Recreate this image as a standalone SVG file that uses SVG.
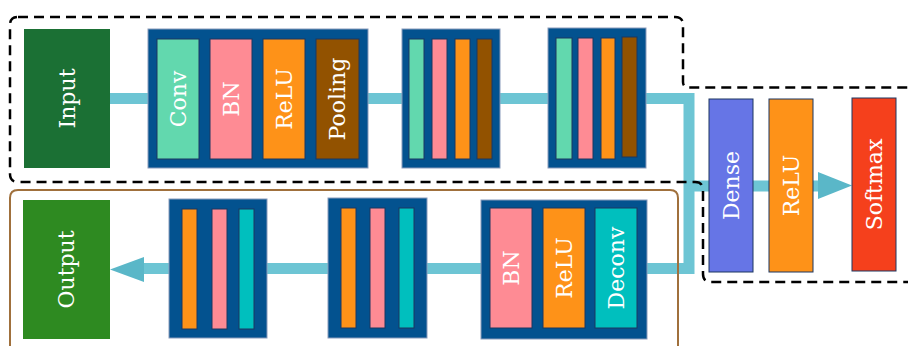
<svg xmlns="http://www.w3.org/2000/svg" width="908" height="346" viewBox="0 0 908 346">
<style>
.lbl{font-family:"DejaVu Serif","Liberation Serif",serif;font-size:22px;fill:#ffffff;text-anchor:middle}
.blk{fill:#03528f;stroke:#8a9bbb;stroke-width:1}
.bar{stroke:#1d3760;stroke-width:1}
.big{stroke:#1d3760;stroke-width:1}
.conv{fill:#62d8ae}.bn{fill:#fe8b94}.relu{fill:#fe9218}.pool{fill:#925200}.dec{fill:#00bfbe}
.edge{fill:none;stroke:#6dc5d4;stroke-width:11}
.head{fill:#5ab7c8}
</style>
<rect width="908" height="346" fill="#ffffff"/>
<g id="connectors">
<path class="edge" d="M110,98.5 H148"/>
<path class="edge" d="M368,98.5 H402"/>
<path class="edge" d="M500,98.5 H548"/>
<path class="edge" d="M646,98.5 H689 V268.5 H647" stroke-linejoin="miter"/>
<path class="edge" d="M689,186 H820"/>
<polygon class="head" points="818,172 852,185.5 818,199"/>
<path class="edge" d="M481,268.5 H427"/>
<path class="edge" d="M328,268.5 H267"/>
<path class="edge" d="M169,268.5 H142"/>
<polygon class="head" points="144,257 110,269.5 144,282"/>
</g>
<g id="input">
<rect x="24" y="29" width="86" height="139" fill="#1b7034"/>
<text class="lbl" x="67" y="98.5" dy="0.36em" transform="rotate(-90 67 98.5)">Input</text>
</g>
<g id="block1">
<rect class="blk" x="148" y="29" width="220" height="139"/>
<rect class="bar conv" x="157" y="39" width="42" height="120"/>
<rect class="bar bn" x="210" y="39" width="42" height="120"/>
<rect class="bar relu" x="263" y="39" width="42" height="120"/>
<rect class="bar pool" x="316" y="39" width="43" height="120"/>
<text class="lbl" x="178" y="99" dy="0.36em" transform="rotate(-90 178 99)">Conv</text>
<text class="lbl" x="231" y="99" dy="0.36em" transform="rotate(-90 231 99)">BN</text>
<text class="lbl" x="284" y="99" dy="0.36em" transform="rotate(-90 284 99)">ReLU</text>
<text class="lbl" x="337.5" y="99" dy="0.36em" transform="rotate(-90 337.5 99)">Pooling</text>
</g>
<g id="block2">
<rect class="blk" x="402" y="29" width="98" height="139"/>
<rect class="bar conv" x="409" y="39" width="15" height="120"/>
<rect class="bar bn" x="432" y="39" width="15" height="120"/>
<rect class="bar relu" x="455" y="39" width="15" height="120"/>
<rect class="bar pool" x="477" y="39" width="15" height="120"/>
</g>
<g id="block3">
<rect class="blk" x="548" y="28" width="98" height="140"/>
<rect class="bar conv" x="556" y="38" width="16" height="121"/>
<rect class="bar bn" x="578" y="38" width="15" height="121"/>
<rect class="bar relu" x="601" y="38" width="14" height="121"/>
<rect class="bar pool" x="622" y="37" width="15" height="120"/>
</g>
<g id="dense">
<rect class="big" x="709" y="99" width="44" height="173" fill="#6675e6"/>
<text class="lbl" x="731" y="185.5" dy="0.36em" transform="rotate(-90 731 185.5)">Dense</text>
</g>
<g id="relu2">
<rect class="big" x="769" y="99" width="44" height="173" fill="#fe9218"/>
<text class="lbl" x="791" y="185.5" dy="0.36em" transform="rotate(-90 791 185.5)">ReLU</text>
</g>
<g id="softmax">
<rect class="big" x="852" y="98" width="44" height="173" fill="#f5401c"/>
<text class="lbl" x="874" y="184.5" dy="0.36em" transform="rotate(-90 874 184.5)">Softmax</text>
</g>
<g id="blockC">
<rect class="blk" x="481" y="200" width="166" height="139"/>
<rect class="bar bn" x="490" y="208" width="42" height="120"/>
<rect class="bar relu" x="543" y="208" width="42" height="120"/>
<rect class="bar dec" x="595" y="208" width="42" height="120"/>
<text class="lbl" x="511" y="268" dy="0.36em" transform="rotate(-90 511 268)">BN</text>
<text class="lbl" x="564" y="268" dy="0.36em" transform="rotate(-90 564 268)">ReLU</text>
<text class="lbl" x="616" y="268" dy="0.36em" transform="rotate(-90 616 268)">Deconv</text>
</g>
<g id="blockB">
<rect class="blk" x="328" y="198" width="99" height="140"/>
<rect class="bar relu" x="341" y="208" width="15" height="120"/>
<rect class="bar bn" x="370" y="208" width="15" height="120"/>
<rect class="bar dec" x="399" y="208" width="15" height="120"/>
</g>
<g id="blockA">
<rect class="blk" x="169" y="199" width="98" height="139"/>
<rect class="bar relu" x="182" y="209" width="15" height="120"/>
<rect class="bar bn" x="212" y="209" width="15" height="120"/>
<rect class="bar dec" x="239" y="209" width="15" height="120"/>
</g>
<g id="output">
<rect x="23" y="200" width="87" height="139" fill="#2e8a21"/>
<text class="lbl" x="66.5" y="269.5" dy="0.36em" transform="rotate(-90 66.5 269.5)">Output</text>
</g>
<g id="groups" fill="none">
<path d="M18,17 H675 Q683,17 683,25 V82 Q683,87.5 689,87.5 H912 V282 H711 Q703,282 703,274 V190 Q703,182 695,182 H18 Q10,182 10,174 V25 Q10,17 18,17 Z" stroke="#000000" stroke-width="2.5" stroke-dasharray="10 6"/>
<path d="M10,350 V198 Q10,190 18,190 H670 Q678,190 678,198 V350" stroke="#a0703c" stroke-width="2"/>
</g>
</svg>
